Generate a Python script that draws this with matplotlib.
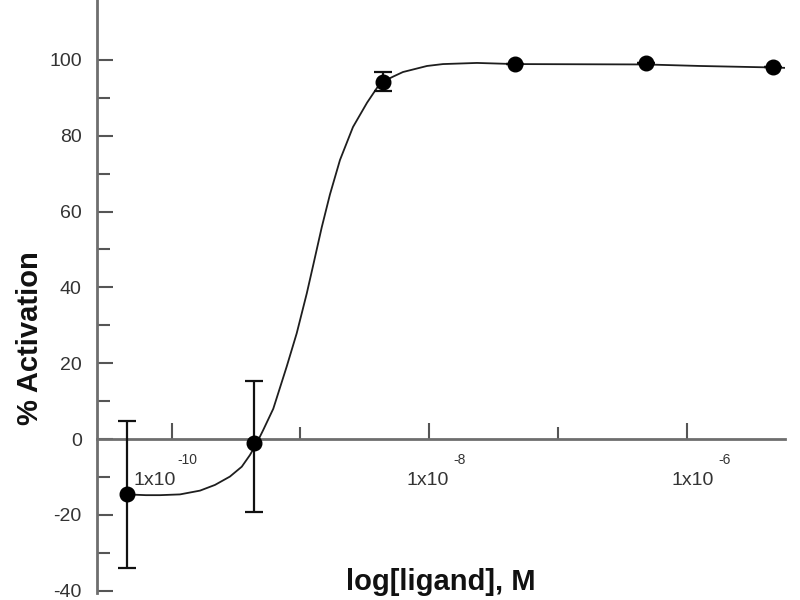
# Curva dose-risposta: % attivazione vs log[ligand]
import matplotlib.pyplot as plt
import numpy as np

plt.rcParams['font.family'] = ['Liberation Sans', 'DejaVu Sans']
plt.rcParams['axes.unicode_minus'] = False

# Punti sperimentali (log10 della concentrazione molare)
log_conc = [-10.35, -9.358, -8.357, -7.334, -6.316, -5.327]
activation = [-14.6, -1.1, 94.3, 98.9, 99.1, 98.0]
err_low = [19.5, 18.1, 2.4, 0.0, 0.0, 0.0]
err_high = [19.4, 16.5, 2.4, 0.0, 0.0, 0.0]

# Curva di fit
fit_log_conc = [-10.35, -10.2, -10.091, -9.936, -9.78, -9.664, -9.548,
                -9.456, -9.392, -9.34, -9.289, -9.211, -9.107,
                -9.029, -8.951, -8.9, -8.835, -8.771, -8.693, -8.592,
                -8.483, -8.406, -8.357, -8.28, -8.204, -8.017, -7.893,
                -7.629, -7.334, -6.316, -5.897, -5.327, -5.236]
fit_activation = [-14.6, -14.8, -14.8, -14.6, -13.6, -12.1, -9.9,
                  -7.3, -4.2, -1.1, 2.4, 8.0, 19.1,
                  27.9, 38.4, 46.0, 55.8, 64.5, 73.6, 82.3,
                  88.7, 92.6, 94.3, 95.6, 96.8, 98.4, 98.9,
                  99.2, 98.9, 98.8, 98.4, 98.0, 97.9]

# Etichette asse x (decadi)
label_decades = [-10, -8, -6]
label_dx = [-12.0, -1.4, 4.5]   # spostamento testo in punti

conc = 10.0 ** np.array(log_conc)
fit_conc = 10.0 ** np.array(fit_log_conc)

fig = plt.figure(figsize=(8, 6), dpi=100)
ax = fig.add_axes([0.1213, 0.0117, 0.8600, 0.9883])

ax.plot(fit_conc, fit_activation, '-', color='#1e1e1e', lw=1.3, zorder=2,
        solid_joinstyle='round')
ax.errorbar(conc, activation, yerr=[err_low, err_high], fmt='o', color='black',
            ms=10.5, ecolor='#111111', elinewidth=1.6, capsize=6.5,
            capthick=1.6, zorder=3)

ax.set_xscale('log')
ax.set_xlim(10 ** -10.58, 10 ** -5.236)
ax.set_ylim(-40.6, 115.8)

for s in ['top', 'right']:
    ax.spines[s].set_visible(False)
ax.spines['bottom'].set_position(('data', 0))
for s in ['left', 'bottom']:
    ax.spines[s].set_color('#6e6e6e')
    ax.spines[s].set_linewidth(2.0)

# Tacche asse x
ax.set_xticks([1e-10, 1e-8, 1e-6])
ax.set_xticks([1e-9, 1e-7], minor=True)
ax.tick_params(axis='x', which='both', direction='in', color='#555555',
               width=1.5, labelbottom=False)
ax.tick_params(axis='x', which='major', length=11.5)
ax.tick_params(axis='x', which='minor', length=8.5)

# Tacche asse y
ax.set_yticks(np.arange(-40, 101, 20))
ax.set_yticks(np.arange(-30, 91, 20), minor=True)
ax.tick_params(axis='y', which='both', direction='in', color='#555555',
               width=1.5, labelsize=14, labelcolor='#333333', pad=11)
ax.tick_params(axis='y', which='major', length=11.5)
ax.tick_params(axis='y', which='minor', length=9.5)

for d, dx in zip(label_decades, label_dx):
    ax.annotate('1x10', xy=(10.0 ** d, 0), xytext=(dx, -29.5),
                textcoords='offset points', ha='center', va='center',
                fontsize=14, color='#333333')
    ax.annotate('%d' % d, xy=(10.0 ** d, 0), xytext=(dx + 23, -15),
                textcoords='offset points', ha='center', va='center',
                fontsize=10, color='#333333')

fig.text(441 / 800, 1 - 582 / 600, 'log[ligand], M', ha='center',
         va='center', fontsize=21, fontweight='bold', color='#111111')
fig.text(30 / 800, 1 - 338 / 600, '% Activation', ha='center', va='center',
         rotation=90, fontsize=21, fontweight='bold', color='#111111')

fig.savefig('out.png', dpi=100)
